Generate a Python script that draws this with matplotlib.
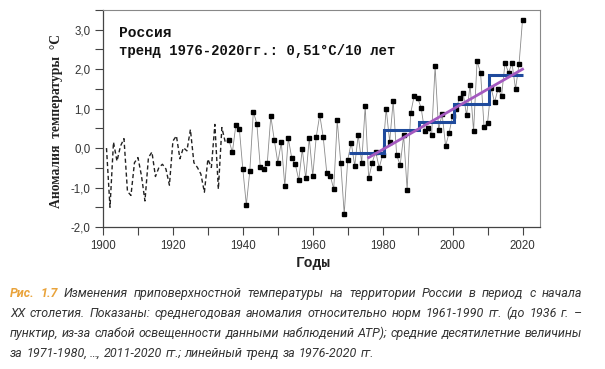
import numpy as np
import matplotlib
matplotlib.use("Agg")
import matplotlib.pyplot as plt
from matplotlib.ticker import MultipleLocator, FuncFormatter

FIG_W, FIG_H, DPI = 605, 369, 100

years = np.arange(1901, 2021)
anomaly = [
    0.00, -1.50, 0.15, -0.33, 0.05, 0.24, -1.10, -1.20, -0.37, -0.24,
    -0.70, -1.34, -0.24, -0.10, -0.72, -0.49, -0.41, -0.53, -0.94, 0.18,
    0.31, -0.27, 0.01, -0.07, 0.47, -0.37, -0.49, -0.66, -1.12, -0.28,
    -0.49, 0.60, -1.04, 0.52, 0.14, 0.21, -0.11, 0.58, 0.49, -0.54,
    -1.44, -0.58, 0.92, 0.62, -0.49, -0.52, -0.37, 0.81, 0.20, -0.37,
    0.15, -0.96, 0.25, -0.26, -0.41, -0.81, -0.03, -0.77, 0.25, -0.70,
    0.29, 0.84, 0.27, -0.62, -0.70, -1.04, 0.70, -0.37, -1.67, -0.30,
    0.14, -0.45, 0.33, -0.37, 1.06, -0.77, -0.37, -0.09, -0.50, -0.17,
    1.00, 0.16, 1.19, -0.18, -0.43, 0.32, -1.06, 0.88, 1.32, 1.27,
    1.02, 0.43, 0.51, 0.33, 2.07, 0.46, 0.87, 0.05, 0.39, 0.81,
    1.00, 1.27, 1.40, 0.83, 1.61, 0.43, 2.20, 1.91, 0.54, 0.64,
    1.53, 1.16, 1.50, 1.32, 2.16, 1.91, 2.15, 1.50, 2.12, 3.25,
]
dashed_until = 1936

decade_edges = [1970.5, 1980.5, 1990.5, 2000.5, 2010.5, 2020.0]
decade_means = [-0.12, 0.46, 0.67, 1.12, 1.86]

trend_years = [1976, 2020]
trend_values = [-0.24, 2.00]

x_ticks = [1900, 1920, 1940, 1960, 1980, 2000, 2020]
y_ticks = [-2, -1, 0, 1, 2, 3]

title_text = "Россия"
trend_text = "тренд 1976-2020гг.: 0,51°C/10 лет"
y_label = "Аномалия  температуры  °C"
x_label = "Годы"

caption_label = "Рис. 1.7"
caption_lines = [
    "Изменения приповерхностной температуры на территории России в период с начала",
    "XX столетия. Показаны: среднегодовая аномалия относительно норм 1961-1990 гг. (до 1936 г. –",
    "пунктир, из-за слабой освещенности данными наблюдений АТР); средние десятилетние величины",
    "за 1971-1980, …, 2011-2020 гг.; линейный тренд за 1976-2020 гг.",
]
CAP_LEFT, CAP_RIGHT = 10, 582
CAP_BASELINE = [297, 317, 337, 357]
CAP_FONT = ["Roboto", "DejaVu Sans"]
ORANGE = "#e9a33b"
TEXT_GRAY = "#333333"


def caption_tokens():
    rows = []
    for i, line in enumerate(caption_lines):
        toks = [(w, "body") for w in line.split(" ")]
        if i == 0:
            toks = [(w, "label") for w in caption_label.split(" ")] + toks
        rows.append(toks)
    return rows


def draw_caption(fig, size, justify):
    # words are placed one by one so the lines can be justified like the book text
    renderer = fig.canvas.get_renderer()
    space = size * 0.26 * DPI / 72
    texts = []
    widest = 0
    rows = caption_tokens()
    for i, toks in enumerate(rows):
        y = 1 - CAP_BASELINE[i] / FIG_H
        items = []
        for word, kind in toks:
            t = fig.text(0, y, word, fontsize=size, style="italic", va="baseline",
                         family=CAP_FONT,
                         color=ORANGE if kind == "label" else TEXT_GRAY,
                         fontweight="bold" if kind == "label" else "normal")
            items.append(t)
        widths = [t.get_window_extent(renderer).width for t in items]
        widest = max(widest, sum(widths) + space * (len(items) - 1))
        gap = space
        if justify and i < len(rows) - 1:
            gap = (CAP_RIGHT - CAP_LEFT - sum(widths)) / (len(items) - 1)
        x = CAP_LEFT
        for t, w in zip(items, widths):
            t.set_x(x / FIG_W)
            x += w + gap
        texts.extend(items)
    return texts, widest


fig = plt.figure(figsize=(FIG_W / DPI, FIG_H / DPI), dpi=DPI)
ax = fig.add_axes([103 / FIG_W, 1 - 227 / FIG_H, 437 / FIG_W, 217 / FIG_H])

years_arr = np.asarray(years)
anom_arr = np.asarray(anomaly)
early = years_arr <= dashed_until
late = years_arr >= dashed_until

ax.plot(years_arr[early], anom_arr[early], color="#222222", lw=1.0,
        dashes=(3, 2))
ax.plot(years_arr[late], anom_arr[late], color="#8a8a8a", lw=0.6,
        marker="s", ms=2.2, mfc="black", mec="black", zorder=3)

ax.stairs(decade_means, decade_edges, baseline=None, color="#1f4a9c",
          lw=2.2, zorder=4)
ax.plot(trend_years, trend_values, color="#a459bf", lw=2.0, zorder=5)

ax.set_xlim(1900, 2025)
ax.set_ylim(-2.0, 3.5)
ax.set_xticks(x_ticks)
ax.xaxis.set_minor_locator(MultipleLocator(10))
ax.set_yticks(y_ticks)
ax.yaxis.set_minor_locator(MultipleLocator(0.5))
ax.yaxis.set_major_formatter(FuncFormatter(lambda v, p: f"{v:.1f}".replace(".", ",")))

ax.tick_params(which="both", direction="out", length=5.5, width=0.8,
               color="#444444", labelcolor=TEXT_GRAY, labelsize=8.3,
               labelfontfamily="Liberation Sans")
ax.tick_params(axis="x", pad=4)

for side in ["left", "bottom"]:
    ax.spines[side].set_color("#444444")
    ax.spines[side].set_linewidth(0.9)
for side in ["top", "right"]:
    ax.spines[side].set_color("#888888")
    ax.spines[side].set_linewidth(0.8)

ax.set_ylabel(y_label, family="Liberation Serif", fontweight="bold",
              fontsize=9.8, color="#222222")
ax.yaxis.set_label_coords(-0.092, 0.49)
ax.set_xlabel(x_label, family="Liberation Mono", fontweight="bold",
              fontsize=10.5, color="#222222")
ax.xaxis.set_label_coords(0.48, -0.135)

fig.text(119 / FIG_W, 1 - 33 / FIG_H, title_text, family="Liberation Mono",
         fontweight="bold", fontsize=10.5, va="center", color="#111111")
fig.text(119 / FIG_W, 1 - 51 / FIG_H, trend_text, family="Liberation Mono",
         fontweight="bold", fontsize=10, va="center", color="#111111")

base_size = 9.0
texts, widest = draw_caption(fig, base_size, justify=False)
for t in texts:
    t.remove()
draw_caption(fig, base_size * (CAP_RIGHT - CAP_LEFT - 2) / widest, justify=True)

fig.savefig("out.png", dpi=DPI)
